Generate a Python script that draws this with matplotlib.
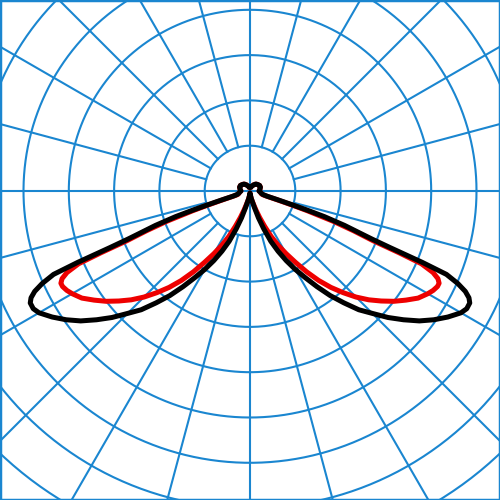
import numpy as np
import matplotlib.pyplot as plt

# photometric data, gamma measured from nadir (deg), intensity (cd/klm)
gamma = [0, 5, 10, 15, 17.5, 20, 22.5, 25, 27.5, 30, 32.5, 35, 37.5, 40, 42.5,
         45, 47.5, 50, 52.5, 55, 57.5, 60, 61.5, 63, 64, 65, 66, 67, 67.5,
         68, 68.5, 69, 70, 71, 71.5, 72, 72.5, 73, 75, 80, 85, 90, 100, 110,
         120, 130, 140, 150, 160, 170, 180]
I_black = [2, 4, 8, 17, 28, 40, 54, 66, 78, 90, 102, 116, 131, 145, 160,
           172, 186, 199, 212, 223, 233, 242, 245, 245, 242, 236, 226, 212, 185,
           150, 130, 118, 100, 78, 60, 42, 28, 18, 13, 11, 10, 9, 10, 11,
           11, 10, 9, 7, 5, 4, 4]
I_red = [2, 4, 8, 14, 20, 28, 38, 50, 61, 72, 84, 98, 112, 125, 137,
         149, 160, 170, 180, 189, 198, 204, 207, 209, 209, 206, 199, 185, 160,
         132, 120, 110, 88, 60, 45, 31, 21, 15, 12, 11, 10, 9, 10, 11,
         11, 10, 9, 7, 5, 4, 4]

ring_step = 45
grid_col = '#1a86d0'

fig = plt.figure(figsize=(5, 5), dpi=100)
ax = fig.add_axes([0, 0, 1, 1])

# polar grid
t = np.linspace(0, 2*np.pi, 400)
for r in range(ring_step, 12*ring_step, ring_step):
    ax.plot(r*np.cos(t), r*np.sin(t), color=grid_col, lw=1.5, zorder=1)
for a in range(0, 360, 15):
    r0 = 0 if a % 90 == 0 else ring_step
    ar = np.radians(a)
    ax.plot([r0*np.cos(ar), 600*np.cos(ar)], [r0*np.sin(ar), 600*np.sin(ar)],
            color=grid_col, lw=1.5, zorder=1)


def curve(g, I):
    g = np.radians(np.array(g))
    I = np.array(I)
    th = np.concatenate([-g[::-1], g[1:]])
    rr = np.concatenate([I[::-1], I[1:]])
    return rr*np.sin(th), -rr*np.cos(th)


x, y = curve(gamma, I_red)
ax.plot(x, y, color='#ee0000', lw=3.6, zorder=3, solid_joinstyle='round')
x, y = curve(gamma, I_black)
ax.plot(x, y, color='black', lw=3.6, zorder=4, solid_joinstyle='round')

k = ring_step/45.3
ax.set_xlim(-250*k, 250*k)
ax.set_ylim(-309*k, 191*k)
ax.set_xticks([])
ax.set_yticks([])
for s in ax.spines.values():
    s.set_color(grid_col)
    s.set_linewidth(2.5)

plt.savefig('out.png', dpi=100)
